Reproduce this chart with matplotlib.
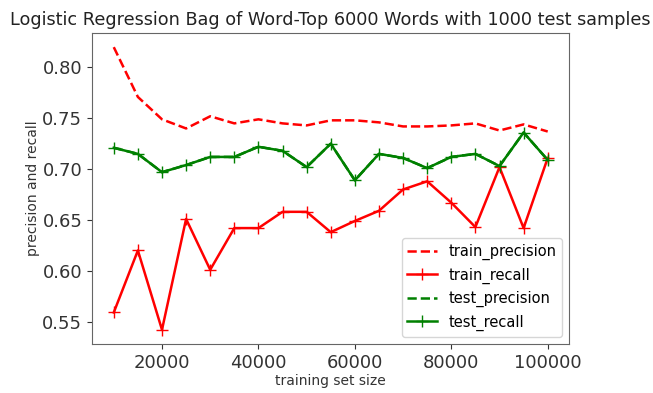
import matplotlib
matplotlib.use("Agg")
import matplotlib.pyplot as plt

# размеры обучающей выборки
train_sizes = list(range(10000, 100001, 5000))

# метрики на обучающей выборке
train_precision = [0.820, 0.771, 0.749, 0.740, 0.752, 0.745, 0.749, 0.745, 0.743, 0.748,
                   0.748, 0.746, 0.742, 0.742, 0.743, 0.745, 0.738, 0.744, 0.737]
train_recall = [0.559, 0.620, 0.542, 0.651, 0.601, 0.642, 0.642, 0.658, 0.658, 0.638,
                0.649, 0.659, 0.680, 0.688, 0.667, 0.643, 0.702, 0.642, 0.711]

# метрики на тестовой выборке (precision совпадает с recall)
test_precision = [0.721, 0.715, 0.697, 0.704, 0.712, 0.712, 0.722, 0.718, 0.702, 0.725,
                  0.689, 0.715, 0.711, 0.701, 0.712, 0.715, 0.703, 0.736, 0.709]
test_recall = [0.721, 0.715, 0.697, 0.704, 0.712, 0.712, 0.722, 0.718, 0.702, 0.725,
               0.689, 0.715, 0.711, 0.701, 0.712, 0.715, 0.703, 0.736, 0.709]

fig = plt.figure(figsize=(6.53, 3.93), dpi=100)
ax = fig.add_axes([0.141, 0.125, 0.731, 0.791])

ax.plot(train_sizes, train_precision, "--", color="red", lw=1.8, label="train_precision")
ax.plot(train_sizes, train_recall, "-", marker="+", ms=8, color="red", lw=1.8, label="train_recall")
ax.plot(train_sizes, test_precision, "--", color="green", lw=1.8, label="test_precision")
ax.plot(train_sizes, test_recall, "-", marker="+", ms=8, color="green", lw=1.8, label="test_recall")

ax.set_title("Logistic Regression Bag of Word-Top 6000 Words with 1000 test samples",
             fontsize=12.7, color="#222222")
ax.set_xlabel("training set size", fontsize=10, color="#333333", labelpad=2)
ax.set_ylabel("precision and recall", fontsize=10, color="#333333", labelpad=2)
ax.tick_params(labelsize=13, colors="#333333")
ax.set_xticks([20000, 40000, 60000, 80000, 100000])
ax.set_yticks([0.55, 0.60, 0.65, 0.70, 0.75, 0.80])
for sp in ax.spines.values():
    sp.set_color("#666666")

ax.legend(loc="lower right", fontsize=10.5)

plt.savefig("out.png", dpi=100)
